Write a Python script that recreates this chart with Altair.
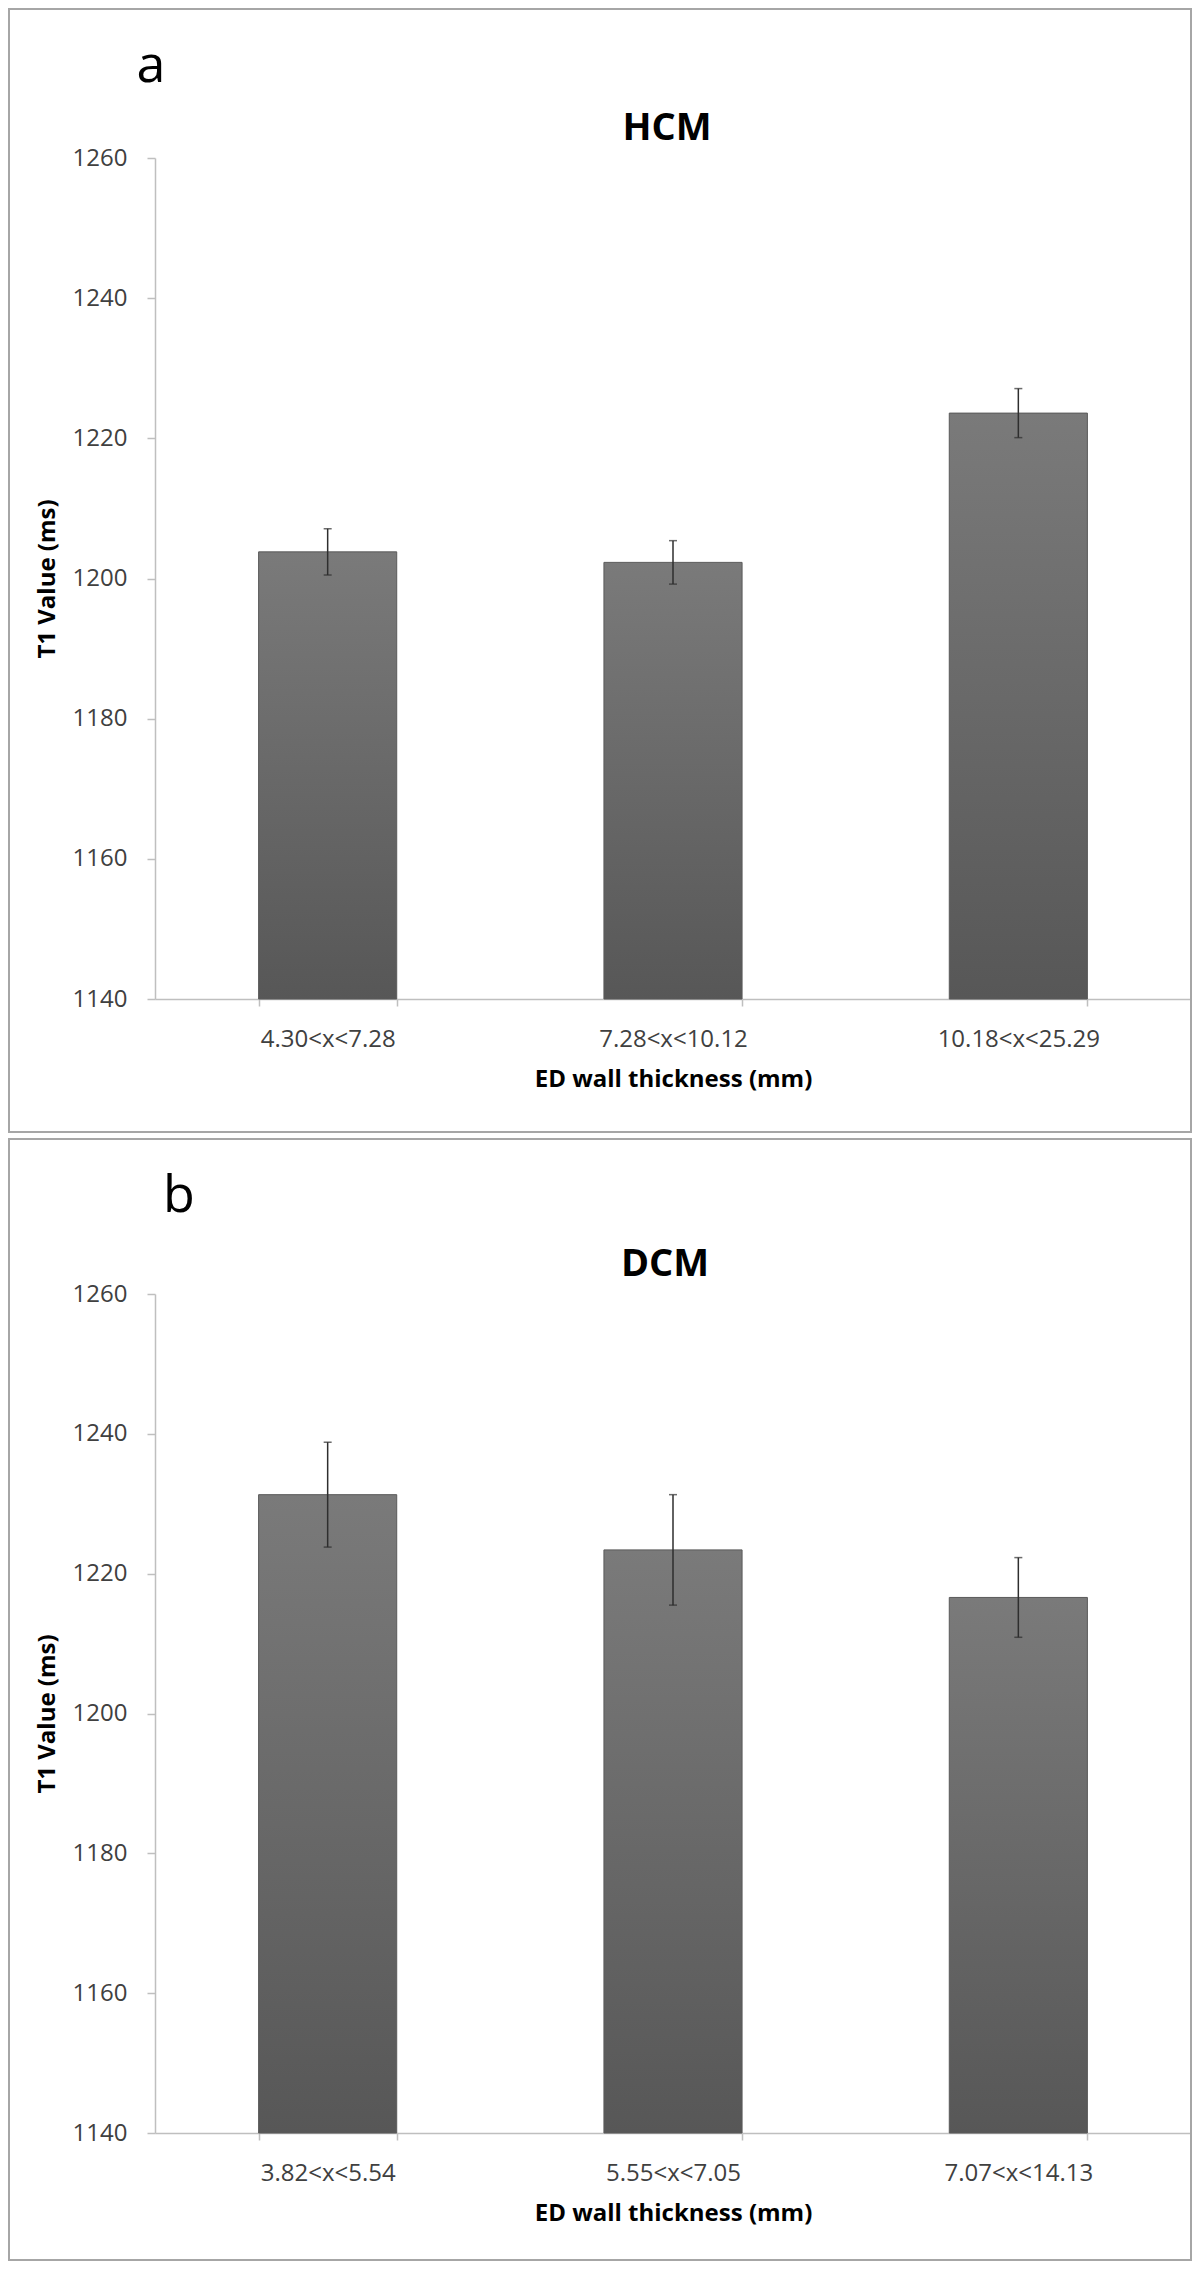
import altair as alt
import pandas as pd

# ---- data ----
hcm_categories = ["4.30<x<7.28", "7.28<x<10.12", "10.18<x<25.29"]
hcm_means = [1203.8, 1202.3, 1223.6]
hcm_errors = [3.3, 3.1, 3.5]

dcm_categories = ["3.82<x<5.54", "5.55<x<7.05", "7.07<x<14.13"]
dcm_means = [1231.3, 1223.4, 1216.6]
dcm_errors = [7.5, 7.9, 5.7]

y_tick_values = [1140, 1160, 1180, 1200, 1220, 1240, 1260]
y_domain = [1140, 1260]

FONT = "Open Sans"
AXIS_GREY = "#bfbfbf"

bar_fill = alt.Gradient(
    gradient="linear",
    stops=[alt.GradientStop(color="#7a7a7a", offset=0),
           alt.GradientStop(color="#575757", offset=1)],
    x1=0, x2=0, y1=0, y2=1,
)


def panel(categories, means, errors, title, letter, letter_x, letter_y,
          title_x, top_pad, width, height, bottom_pad):
    df = pd.DataFrame({
        "cat": categories,
        "mean": means,
        "lo": [m - e for m, e in zip(means, errors)],
        "hi": [m + e for m, e in zip(means, errors)],
    })
    x = alt.X(
        "cat:N", sort=categories, title="ED wall thickness (mm)",
        scale=alt.Scale(paddingInner=0.6, paddingOuter=0.3),
        axis=alt.Axis(labelAngle=0, tickBand="extent", tickSize=7,
                      labelPadding=21, titlePadding=16,
                      domainColor=AXIS_GREY, tickColor=AXIS_GREY,
                      domainWidth=1.5, tickWidth=1.5),
    )
    yscale = alt.Scale(domain=y_domain, zero=False, nice=False)
    yaxis = alt.Axis(values=y_tick_values, format="d", tickSize=8,
                     labelPadding=20, titlePadding=13,
                     domainColor=AXIS_GREY, tickColor=AXIS_GREY,
                     domainWidth=1.5, tickWidth=1.5)

    def Y(field):
        return alt.Y(field, type="quantitative", scale=yscale, axis=yaxis,
                     title="T1 Value (ms)")

    base = alt.Chart(df)
    bars = base.mark_bar(fill=bar_fill, stroke="#5a5a5a", strokeWidth=1).encode(
        x=x, y=Y("mean"), y2=alt.datum(1140)
    )
    err = base.mark_rule(color="#2e2e2e", strokeWidth=1.5).encode(
        x=x, y=Y("lo"), y2="hi:Q"
    )
    cap_hi = base.mark_tick(color="#2e2e2e", thickness=1.5, size=8).encode(
        x=x, y=Y("hi")
    )
    cap_lo = base.mark_tick(color="#2e2e2e", thickness=1.5, size=8).encode(
        x=x, y=Y("lo")
    )

    one = pd.DataFrame({"t": [title], "l": [letter]})
    title_mark = alt.Chart(one).mark_text(
        font=FONT, fontSize=38, fontWeight="bold", color="#000000",
        align="center", baseline="alphabetic",
    ).encode(x=alt.value(title_x), y=alt.value(-18), text="t:N")
    letter_mark = alt.Chart(one).mark_text(
        font=FONT, fontSize=52, color="#000000",
        align="center", baseline="alphabetic",
    ).encode(x=alt.value(letter_x), y=alt.value(letter_y), text="l:N")

    border = alt.Chart(one).mark_rect(
        filled=False, stroke="#a6a6a6", strokeWidth=2
    ).encode(
        x=alt.value(-146), x2=alt.value(width),
        y=alt.value(-top_pad), y2=alt.value(height + bottom_pad),
    )

    return alt.layer(border, bars, err, cap_hi, cap_lo, title_mark,
                     letter_mark).properties(width=width, height=height)


panel_a = panel(hcm_categories, hcm_means, hcm_errors, "HCM", "a",
                letter_x=-4, letter_y=-76, title_x=512, top_pad=149,
                width=1036, height=841, bottom_pad=133)
panel_b = panel(dcm_categories, dcm_means, dcm_errors, "DCM", "b",
                letter_x=24, letter_y=-82, title_x=510, top_pad=155,
                width=1036, height=839, bottom_pad=127)

chart = alt.vconcat(panel_a, panel_b, spacing=5).properties(
    padding=0
).configure_view(
    strokeWidth=0
).configure_axis(
    grid=False,
    labelFont=FONT, labelFontSize=24, labelColor="#404040",
    titleFont=FONT, titleFontSize=24, titleFontWeight="bold",
    titleColor="#000000",
)

chart.save("out.html", embed_options={"renderer": "svg", "actions": False})
